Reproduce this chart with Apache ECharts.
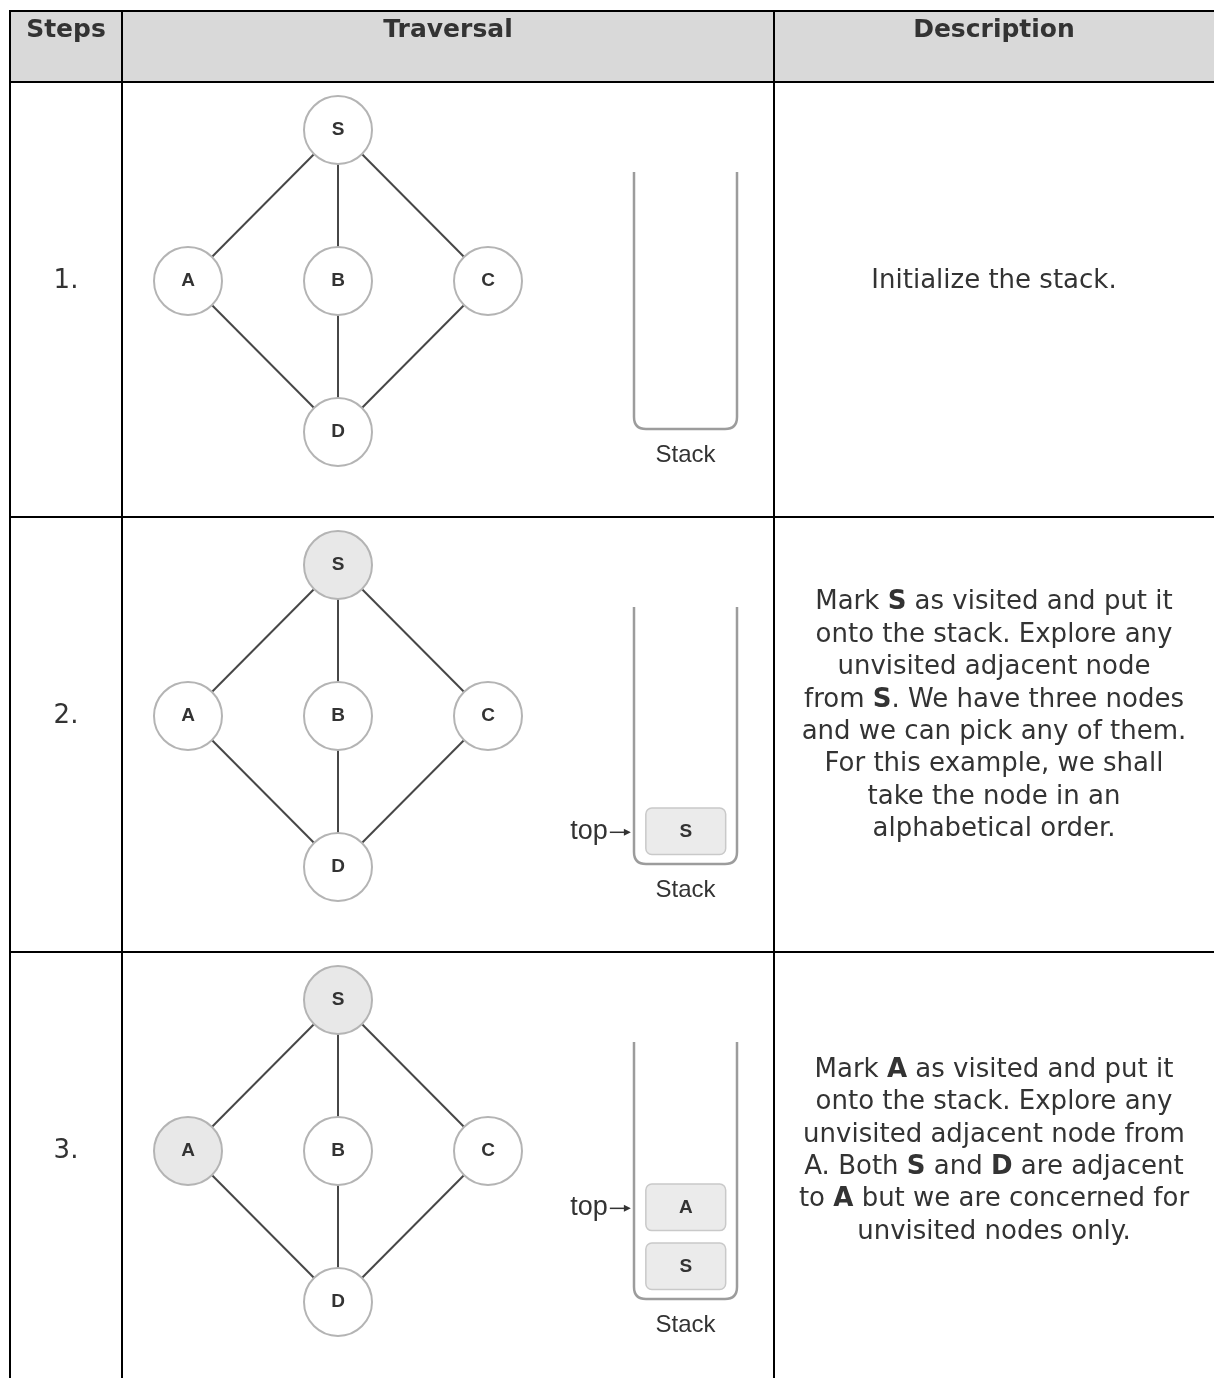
<!DOCTYPE html>
<html><head><meta charset="utf-8">
<script src="https://cdn.jsdelivr.net/npm/echarts@6/dist/echarts.min.js"></script>
<style>html,body{margin:0;padding:0;background:#fff}#c{width:1214px;height:1378px}</style>
</head><body><div id="c"></div>
<script>
// ---- data ----
const headers = ['Steps', 'Traversal', 'Description'];
const steps = ['1.', '2.', '3.'];
const nodeNames = ['S', 'A', 'B', 'C', 'D'];
const nodeCol = [1, 0, 1, 2, 1];
const nodeRow = [0, 1, 1, 1, 2];
const edges = [['S', 'A'], ['S', 'B'], ['S', 'C'], ['A', 'D'], ['B', 'D'], ['C', 'D']];
const visited = [[], ['S'], ['S', 'A']];
const stacks = [[], ['S'], ['S', 'A']];
const descriptions = [
  ['Initialize the stack.'],
  ['Mark {b|S} as visited and put it', 'onto the stack. Explore any', 'unvisited adjacent node',
   'from {b|S}. We have three nodes', 'and we can pick any of them.', 'For this example, we shall',
   'take the node in an', 'alphabetical order.'],
  ['Mark {b|A} as visited and put it', 'onto the stack. Explore any', 'unvisited adjacent node from',
   'A. Both {b|S} and {b|D} are adjacent', 'to {b|A} but we are concerned for', 'unvisited nodes only.']
];

// ---- layout / style ----
const W = 1214, H = 1378;
const colX = [10, 122, 774, 1214];
const headTop = 11, headBottom = 82, rowPitch = 435;
const rowTops = steps.map((s, i) => headBottom + rowPitch * i);
const textFont = 'DejaVu Sans';
const txtColor = '#333';
const diagFont = 'Liberation Sans';

const chart = echarts.init(document.getElementById('c'), null, {renderer: 'canvas'});

const grids = [], xAxes = [], yAxes = [], series = [];
steps.forEach((s, i) => {
  const rt = rowTops[i];
  // graph grid
  grids.push({left: 188, top: rt + 48, width: 300, height: 302});
  xAxes.push({type: 'value', gridIndex: 2 * i, min: 0, max: 2, show: false});
  yAxes.push({type: 'value', gridIndex: 2 * i, min: 0, max: 2, inverse: true, show: false});
  // stack grid
  grids.push({left: 634, top: rt + 90, width: 103, height: 257});
  xAxes.push({type: 'value', gridIndex: 2 * i + 1, min: 0, max: 1, show: false});
  yAxes.push({type: 'value', gridIndex: 2 * i + 1, min: 0, max: 4.36, show: false});

  series.push({
    type: 'graph',
    coordinateSystem: 'cartesian2d',
    xAxisIndex: 2 * i, yAxisIndex: 2 * i,
    symbol: 'circle', symbolSize: 68,
    silent: true,
    data: nodeNames.map((n, k) => ({
      name: n, value: [nodeCol[k], nodeRow[k]],
      itemStyle: {color: visited[i].includes(n) ? '#e8e8e8' : '#ffffff',
        borderColor: '#b4b4b4', borderWidth: 2}
    })),
    links: edges.map(e => ({source: e[0], target: e[1]})),
    lineStyle: {color: '#474747', width: 2, opacity: 1, curveness: 0},
    label: {show: true, position: 'inside', formatter: '{b}', fontFamily: diagFont,
      fontWeight: 'bold', fontSize: 19, color: txtColor},
    z: 3
  });

  // stack container
  series.push({
    type: 'custom',
    xAxisIndex: 2 * i + 1, yAxisIndex: 2 * i + 1,
    silent: true,
    data: [[0, 0]],
    renderItem: (params, api) => {
      const c = params.coordSys;
      const x = c.x, y = c.y, w = c.width, h = c.height, r = 12;
      return {
        type: 'group', children: [
          {type: 'path', shape: {pathData:
            `M${x},${y} L${x},${y + h - r} Q${x},${y + h} ${x + r},${y + h} L${x + w - r},${y + h} Q${x + w},${y + h} ${x + w},${y + h - r} L${x + w},${y}`},
            style: {fill: null, stroke: '#9c9c9c', lineWidth: 2.5}},
          {type: 'text', x: x + w / 2, y: y + h + 26,
            style: {text: 'Stack', align: 'center', verticalAlign: 'middle',
              font: `24px "${diagFont}"`, fill: txtColor}}
        ]
      };
    },
    z: 2
  });

  // stack items
  const items = stacks[i];
  series.push({
    type: 'custom',
    xAxisIndex: 2 * i + 1, yAxisIndex: 2 * i + 1,
    silent: true,
    data: items.map((n, k) => [k, n]),
    renderItem: (params, api) => {
      const k = api.value(0);
      const name = items[params.dataIndex];
      const p0 = api.coord([0.115, k + 0.95]);
      const p1 = api.coord([0.89, k + 0.16]);
      const children = [
        {type: 'rect', shape: {x: p0[0], y: p0[1], width: p1[0] - p0[0], height: p1[1] - p0[1], r: 6},
          style: {fill: '#ebebeb', stroke: '#c9c9c9', lineWidth: 1.5}},
        {type: 'text', x: (p0[0] + p1[0]) / 2, y: (p0[1] + p1[1]) / 2,
          style: {text: name, align: 'center', verticalAlign: 'middle',
            font: `bold 19px "${diagFont}"`, fill: txtColor}}
      ];
      if (params.dataIndex === items.length - 1) {
        const cy = (p0[1] + p1[1]) / 2;
        const ax0 = p0[0] - 36, ax1 = p0[0] - 15;
        children.push(
          {type: 'text', x: ax0 - 2, y: cy,
            style: {text: 'top', align: 'right', verticalAlign: 'middle',
              font: `27px "${diagFont}"`, fill: txtColor}},
          {type: 'line', shape: {x1: ax0, y1: cy + 1, x2: ax1 - 4, y2: cy + 1},
            style: {stroke: '#333', lineWidth: 1.5}},
          {type: 'polygon', shape: {points: [[ax1, cy + 1], [ax1 - 7, cy - 2.5], [ax1 - 7, cy + 4.5]]},
            style: {fill: '#333'}}
        );
      }
      return {type: 'group', children};
    },
    z: 4
  });
});

// ---- table (graphic) ----
const g = [];
g.push({type: 'rect', shape: {x: colX[0], y: headTop, width: W - colX[0], height: headBottom - headTop},
  style: {fill: '#d9d9d9'}, z: -10});
headers.forEach((h, j) => {
  g.push({type: 'text', x: (colX[j] + colX[j + 1]) / 2, y: 30,
    style: {text: h, align: 'center', verticalAlign: 'middle',
      font: `bold 25px "${textFont}"`, fill: txtColor}});
});
steps.forEach((s, i) => {
  const cy = rowTops[i] + 199;
  g.push({type: 'text', x: (colX[0] + colX[1]) / 2, y: cy,
    style: {text: s, align: 'center', verticalAlign: 'middle',
      font: `26px "${textFont}"`, fill: txtColor}});
  g.push({type: 'text', x: (colX[2] + colX[3]) / 2, y: cy,
    style: {text: descriptions[i].join('\n'), align: 'center', verticalAlign: 'middle',
      fontFamily: textFont, fontSize: 26, lineHeight: 32.4, fill: txtColor,
      rich: {b: {fontFamily: textFont, fontSize: 26, lineHeight: 32.4, fontWeight: 'bold', fill: txtColor}}}});
});
const lineStyle = {stroke: '#000', lineWidth: 2};
[headTop, headBottom].concat(rowTops.slice(1)).forEach(y => {
  g.push({type: 'line', shape: {x1: colX[0] - 1, y1: y, x2: W, y2: y}, style: lineStyle, z: 10});
});
colX.slice(0, 3).forEach(x => {
  g.push({type: 'line', shape: {x1: x, y1: headTop - 1, x2: x, y2: H}, style: lineStyle, z: 10});
});

chart.setOption({
  animation: false,
  backgroundColor: '#ffffff',
  grid: grids, xAxis: xAxes, yAxis: yAxes,
  series,
  graphic: {elements: g}
});
</script></body></html>
